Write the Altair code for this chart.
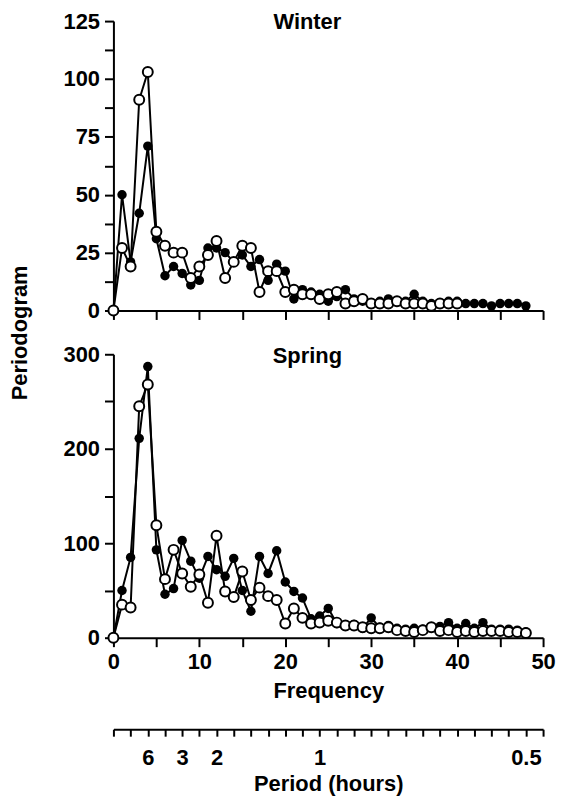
import altair as alt
import pandas as pd

# ---------------- data ----------------
freq = list(range(49))

winter_filled = [0, 50, 21, 42, 71, 31, 15, 19, 16, 11, 13, 27, 27, 25, 21, 24, 19, 22, 13, 20,
                 17, 5, 9, 8, 7, 4, 6, 9, 5, 4, 3, 4, 5, 4, 4, 7, 4, 3, 3, 4,
                 4, 3, 3, 3, 2, 3, 3, 3, 2]
winter_open = [0, 27, 19, 91, 103, 34, 28, 25, 25, 14, 19, 24, 30, 14, 21, 28, 27, 8, 17, 17,
               8, 9, 7, 7, 5, 7, 8, 3, 4, 5, 3, 3, 3, 4, 3, 3, 3, 2, 3, 3, 3]

spring_filled = [0, 50, 85, 211, 287, 93, 46, 52, 103, 81, 63, 86, 72, 65, 84, 50, 28, 86, 68, 92,
                 59, 49, 42, 20, 23, 31, 15, 12, 14, 10, 21, 11, 13, 10, 9, 10, 9, 11, 12, 16,
                 10, 15, 10, 16, 9, 9, 9, 8, 6]
spring_open = [0, 35, 32, 245, 268, 119, 62, 93, 68, 54, 67, 37, 108, 49, 43, 70, 40, 53, 44, 40,
               15, 31, 21, 15, 16, 18, 16, 13, 13, 11, 10, 10, 11, 8, 7, 6, 8, 11, 7, 8,
               6, 7, 6, 7, 7, 7, 6, 6, 5]

winter_y_ticks = [0, 12.5, 25, 37.5, 50, 62.5, 75, 87.5, 100, 112.5, 125]
spring_y_ticks = [0, 50, 100, 150, 200, 250, 300]
freq_ticks = list(range(0, 51, 5))
period_ticks = list(range(0, 51, 2))
period_tick_freqs = [4, 8, 12, 24, 48]
period_labels = ["6", "3", "2", "1", "0.5"]
panel_titles = ["Winter", "Spring"]

FONT = "Liberation Sans"
FS = 22

def series_df(vals, name):
    return pd.DataFrame({"freq": freq[:len(vals)], "value": vals, "series": name})

def panel(filled, open_, ymax, yticks, label_step, title, title_y, show_x_labels, y_title):
    df = pd.concat([series_df(filled, "filled"), series_df(open_, "open")])
    xaxis = alt.Axis(values=freq_ticks, labels=show_x_labels,
                     labelExpr="datum.value % 10 == 0 ? datum.label : ''",
                     title="Frequency" if show_x_labels else None, titlePadding=8)
    yaxis_kw = dict(values=yticks,
                    labelExpr=f"datum.value % {label_step} == 0 ? datum.label : ''")
    if y_title:
        # shared axis title, centred in the gap between the two panels
        yaxis_kw.update(title="Periodogram", titleX=-82, titleY=-22, titleAngle=270,
                        titleAlign="center", titleBaseline="bottom")
    else:
        yaxis_kw.update(title=None)
    x = alt.X("freq:Q", scale=alt.Scale(domain=[0, 50], nice=False), axis=xaxis)
    y = alt.Y("value:Q", scale=alt.Scale(domain=[0, ymax], nice=False), axis=alt.Axis(**yaxis_kw))
    base = alt.Chart(df).encode(x=x, y=y)
    fl = base.transform_filter(alt.datum.series == "filled")
    op = base.transform_filter(alt.datum.series == "open")
    label = alt.Chart(pd.DataFrame({"label": [title]})).mark_text(
        font=FONT, fontSize=FS, fontWeight="bold", color="black",
        align="center", baseline="alphabetic",
    ).encode(text="label:N", x=alt.value(195), y=alt.value(title_y))
    layers = alt.layer(
        fl.mark_line(color="black", strokeWidth=2),
        fl.mark_point(filled=True, color="black", size=90, opacity=1),
        op.mark_line(color="black", strokeWidth=2),
        op.mark_point(filled=True, fill="white", stroke="black", strokeWidth=2, size=100, opacity=1),
        label,
    )
    return layers.properties(width=432)

top = panel(winter_filled, winter_open, 125, winter_y_ticks, 25, panel_titles[0], 8, False, False).properties(height=291)
bottom = panel(spring_filled, spring_open, 300, spring_y_ticks, 100, panel_titles[1], 9, True, True).properties(height=285)

label_expr = " : ".join(
    f"datum.value == {f} ? '{l}'" for f, l in zip(period_tick_freqs, period_labels)
) + " : ''"

period = alt.Chart(pd.DataFrame({"freq": freq})).mark_point(opacity=0).encode(
    x=alt.X("freq:Q", scale=alt.Scale(domain=[0, 50], nice=False),
            axis=alt.Axis(values=period_ticks, labelExpr=label_expr, title="Period (hours)",
                          tickSize=7, labelPadding=11, titlePadding=6)),
).properties(width=432, height=48)

chart = alt.vconcat(
    top, bottom, period, spacing=44, bounds="flush", padding=0,
).configure_view(
    stroke=None
).configure_axis(
    grid=False,
    domainColor="black", domainWidth=2,
    tickColor="black", tickWidth=2, tickSize=9,
    labelFont=FONT, labelFontSize=FS, labelFontWeight="bold", labelColor="black",
    labelPadding=5,
    titleFont=FONT, titleFontSize=FS, titleFontWeight="bold", titleColor="black",
    titlePadding=4,
    labelFlush=False, labelOverlap=False,
)

chart.save("out.html", embed_options={"renderer": "svg", "actions": False})
